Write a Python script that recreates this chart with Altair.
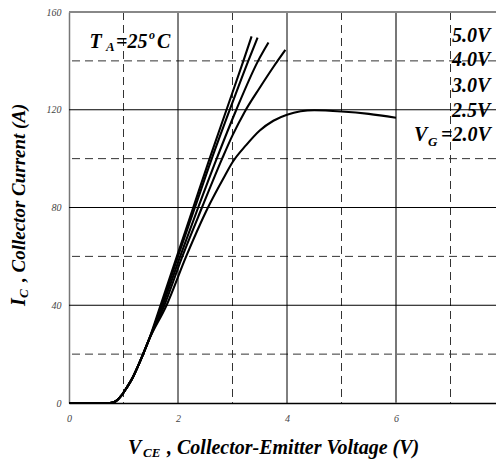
import altair as alt
import pandas as pd

# ---------------- data ----------------
vce_common = [0, 0.75, 0.85, 0.96, 1.06, 1.16, 1.26, 1.36, 1.46]
ic_common = [0, 0, 0.6, 3, 6.3, 10, 14.8, 20, 25.5]

vce_50 = [1.68, 1.98, 2.28, 2.58, 2.89, 3.2, 3.35]
ic_50 = [40, 60, 80, 100, 120, 140, 150]
vce_40 = [1.70, 2.0, 2.31, 2.62, 2.95, 3.29, 3.46]
ic_40 = [40, 60, 80, 100, 120, 140, 149.5]
vce_30 = [1.72, 2.04, 2.37, 2.71, 3.07, 3.47, 3.66]
ic_30 = [40, 60, 80, 100, 120, 140, 147.5]
vce_25 = [1.75, 2.08, 2.44, 2.81, 3.0, 3.22, 3.5, 3.75, 3.97]
ic_25 = [40, 60, 80, 100, 109.5, 119, 129, 137.5, 144.5]
vce_20 = [1.79, 2.15, 2.55, 2.86, 3.0, 3.25, 3.5, 3.75, 4.0, 4.5, 5.0, 5.5, 6.0]
ic_20 = [40, 60, 80, 93, 98.5, 105.5, 111.5, 115.5, 118, 119.8, 119.3, 118.3, 116.7]

series_names = ["5.0V", "4.0V", "3.0V", "2.5V", "2.0V"]
gate_labels = ["5.0V", "4.0V", "3.0V", "2.5V"]

x_ticks = [0, 2, 4, 6, 8]
y_ticks = [0, 40, 80, 120, 160]
x_major = [2, 4]
x_major_gray = [6]
x_minor = [1, 3, 5, 7]
y_major = [40, 80, 120]
y_minor = [20, 60, 100, 140]
y_top = [160]

curves = [(vce_50, ic_50), (vce_40, ic_40), (vce_30, ic_30), (vce_25, ic_25), (vce_20, ic_20)]
rows = []
for name, (xs, ys) in zip(series_names, curves):
    for xv, yv in zip(vce_common + xs, ic_common + ys):
        rows.append({"vg": name, "vce": xv, "ic": yv})
df = pd.DataFrame(rows)

# ---------------- encodings ----------------
SERIF = "Liberation Serif"
# plot continues past the right edge of the window (x = 8 lies just outside)
xscale = alt.Scale(domain=[0, 8], range=[0, 436], nice=False, zero=False)
yscale = alt.Scale(domain=[0, 160], nice=False, zero=False)
xaxis = alt.Axis(values=x_ticks, title=None, grid=False, ticks=False, labelFont=SERIF,
                 labelFontStyle="italic", labelFontSize=10, labelColor="#444",
                 labelPadding=10, labelFlush=False, labelOverlap=False,
                 domainColor="black", domainWidth=1.5)
yaxis = alt.Axis(values=y_ticks, title=None, grid=False, ticks=False, labelFont=SERIF,
                 labelFontStyle="italic", labelFontSize=10, labelColor="#444",
                 labelPadding=8, labelFlush=False, labelOverlap=False,
                 domainColor="#777", domainWidth=1.5)
X = alt.X("vce:Q", scale=xscale, axis=xaxis)
Y = alt.Y("ic:Q", scale=yscale, axis=yaxis)


def vrules(vals, **kw):
    return alt.Chart(pd.DataFrame({"vce": vals})).mark_rule(**kw).encode(x=X)


def hrules(vals, **kw):
    return alt.Chart(pd.DataFrame({"ic": vals})).mark_rule(**kw).encode(y=Y)


def txt(s, px, py, size=20, angle=0, style="italic", weight="bold"):
    return alt.Chart(pd.DataFrame({"t": [s]})).mark_text(
        font=SERIF, fontSize=size, fontStyle=style, fontWeight=weight,
        align="left", baseline="alphabetic", angle=angle, color="black"
    ).encode(text="t:N", x=alt.value(px), y=alt.value(py))


dash = [8, 5]
layers = [
    vrules(x_minor, color="#333", strokeWidth=1, strokeDash=dash),
    hrules(y_minor, color="#333", strokeWidth=1, strokeDash=dash),
    vrules(x_major, color="black", strokeWidth=1),
    vrules(x_major_gray, color="#777", strokeWidth=2),
    hrules(y_major, color="black", strokeWidth=1),
    hrules(y_top, color="#888", strokeWidth=2),
    alt.Chart(df).mark_line(color="black", strokeWidth=2.1, interpolate="monotone").encode(
        x=X, y=Y, detail="vg:N"),
]

# T_A = 25 deg C  (offsets relative to plot top-left)
layers += [
    txt("T", 20.5, 35.7),
    txt("A", 37, 38.5, size=13),
    txt("=25", 47, 35.7),
    txt("o", 80, 26.5, size=12),
    txt("C", 88, 35.7),
]

# gate voltage labels
baselines = [29.7, 54.2, 79.7, 104.7]
for lab, b in zip(gate_labels, baselines):
    layers.append(txt(lab, 383, b))
layers += [
    txt("V", 345, 128.7),
    txt("G", 359, 134, size=13),
    txt("=2.0V", 372, 128.7),
]

# x-axis title
layers += [
    txt("V", 59, 442),
    txt("CE", 74, 445, size=13),
    txt(", Collector-Emitter Voltage (V)", 98, 442),
]

# y-axis title (rotated)
layers += [
    txt("I", -44, 294, angle=270),
    txt("C", -41, 286, size=13, angle=270),
    txt(", Collector Current (A)", -44, 270, size=19, angle=270),
]

chart = alt.layer(*layers).properties(
    width=427, height=391,
    padding={"left": 61, "top": 4, "right": 0, "bottom": 56},
    autosize=alt.AutoSizeParams(type="none"),
).configure_view(strokeWidth=0)

chart.save("out.html", embed_options={"renderer": "svg", "actions": False})
